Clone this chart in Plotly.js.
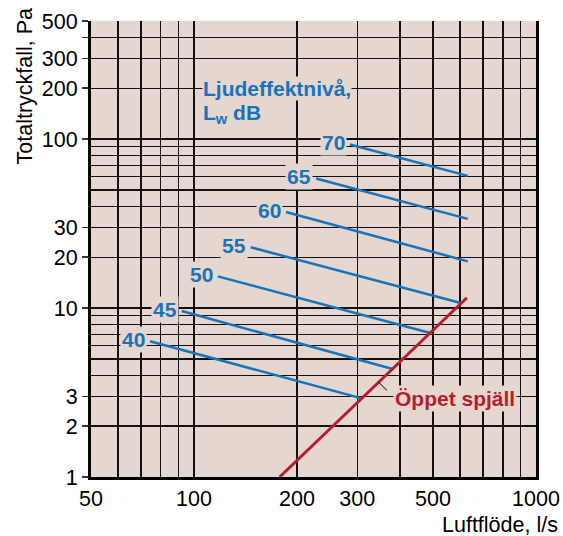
<!DOCTYPE html>
<html>
<head>
<meta charset="utf-8">
<script src="https://cdn.plot.ly/plotly-3.0.1.min.js"></script>
<style>
  html, body { margin: 0; padding: 0; background: #ffffff; }
  #chart { width: 563px; height: 536px; }
</style>
</head>
<body>
<div id="chart"></div>
<script>
// Sound power level lines (Lw, dB): pressure drop vs. airflow, log-log
const levels    = ['40', '45', '50', '55', '60', '65', '70'];
const startFlow = [74.4, 92.1, 117.4, 146.5, 185.8, 227.5, 285.9];
const startDrop = [6.36, 9.6, 15.4, 22.9, 37.0, 58.4, 93.0];
const endFlow   = [307.3, 381, 487.7, 606.6, 631.6, 631.6, 631.6];
const endDrop   = [2.93, 4.36, 7.14, 10.67, 18.9, 33.7, 60.6];

// Open damper characteristic
const damperFlow = [178, 628];
const damperDrop = [1.0, 11.5];

// Axis ticks and grid
const xTickVals  = [50, 100, 200, 300, 500, 1000];
const xTickText  = ['50', '100', '200', '300', '500', '1000'];
const xGridVals  = [60, 70, 80, 90, 400, 600, 700, 800, 900];
const yTickVals  = [1, 2, 3, 10, 20, 30, 100, 200, 300, 400, 500];
const yTickText  = ['1', '2', '3', '10', '20', '30', '100', '200', '300', ' ', '500'];
const yGridVals  = [4, 5, 6, 7, 8, 9, 40, 50, 60, 70, 80, 90];

const BLUE = '#1873b9';
const RED = '#b71d2d';
const BG = '#e5d6cf';
const GRID = '#141010';
const FONT = 'Liberation Sans, Arial, Helvetica, sans-serif';
const lg = Math.log10;

const traces = levels.map((lv, i) => ({
  type: 'scatter', mode: 'lines',
  x: [startFlow[i], endFlow[i]],
  y: [startDrop[i], endDrop[i]],
  line: { color: BLUE, width: 2.5 },
  hoverinfo: 'skip', showlegend: false
}));
traces.push({
  type: 'scatter', mode: 'lines',
  x: damperFlow, y: damperDrop,
  line: { color: RED, width: 3 },
  hoverinfo: 'skip', showlegend: false
});

const annotations = levels.map((lv, i) => ({
  x: lg(startFlow[i]), y: lg(startDrop[i]), xref: 'x', yref: 'y',
  text: '<b>' + lv + '</b>', showarrow: false, xanchor: 'right', yanchor: 'middle',
  xshift: -3, yshift: 2,
  bgcolor: BG, borderpad: 1,
  font: { family: FONT, size: 21, color: BLUE }
}));

annotations.push(
  { xref: 'paper', yref: 'paper', x: 0.25, y: 0.853, xanchor: 'left', yanchor: 'middle',
    text: '<b>Ljudeffektnivå,</b>', showarrow: false, bgcolor: BG, borderpad: 0,
    font: { family: FONT, size: 21, color: BLUE } },
  { xref: 'paper', yref: 'paper', x: 0.25, y: 0.797, xanchor: 'left', yanchor: 'middle',
    text: '<b>L<sub>w</sub> dB</b>', showarrow: false, bgcolor: BG, borderpad: 0,
    font: { family: FONT, size: 21, color: BLUE } },
  { xref: 'paper', yref: 'paper', x: 0.819, y: 0.172, xanchor: 'center', yanchor: 'middle',
    text: '<b>Öppet spjäll</b>', showarrow: false, bgcolor: BG, borderpad: 1,
    font: { family: FONT, size: 21, color: RED } },
  // leader from the damper label to its line
  { xref: 'x', yref: 'y', axref: 'x', ayref: 'y',
    x: lg(346), y: lg(3.65), ax: lg(378), ay: lg(3.06),
    text: ' ', showarrow: true, arrowhead: 0, arrowwidth: 1, arrowcolor: '#000' },
  // axis titles
  { xref: 'paper', yref: 'paper', x: -0.149, y: 0.858, xanchor: 'center', yanchor: 'middle',
    text: 'Totaltryckfall, Pa', textangle: -90, showarrow: false,
    font: { family: FONT, size: 21.5, color: '#000' } },
  { xref: 'paper', yref: 'paper', x: 1.053, y: -0.106, xanchor: 'right', yanchor: 'middle',
    text: 'Luftflöde, l/s', showarrow: false,
    font: { family: FONT, size: 21.5, color: '#000' } }
);

const layout = {
  width: 563, height: 536,
  margin: { l: 91, r: 27, t: 21, b: 59 },
  paper_bgcolor: '#ffffff',
  plot_bgcolor: BG,
  showlegend: false,
  font: { family: FONT, size: 21, color: '#000' },
  xaxis: {
    type: 'log', range: [lg(50), lg(1000)],
    tickmode: 'array', tickvals: xTickVals, ticktext: xTickText,
    ticks: '', showgrid: true, gridcolor: GRID, gridwidth: 1.3,
    minor: { tickmode: 'array', tickvals: xGridVals, showgrid: true, gridcolor: GRID, gridwidth: 1.3, ticks: '' },
    showline: true, linecolor: '#000', linewidth: 3, mirror: false,
    zeroline: false, tickfont: { family: FONT, size: 21.5, color: '#000' }
  },
  yaxis: {
    type: 'log', range: [0, lg(500)],
    tickmode: 'array', tickvals: yTickVals, ticktext: yTickText,
    ticks: 'outside', ticklen: 6, tickwidth: 1.5, tickcolor: '#333',
    showgrid: true, gridcolor: GRID, gridwidth: 1.3,
    minor: { tickmode: 'array', tickvals: yGridVals, showgrid: true, gridcolor: GRID, gridwidth: 1.3, ticks: '' },
    showline: true, linecolor: '#000', linewidth: 3, mirror: true,
    zeroline: false, tickfont: { family: FONT, size: 21.5, color: '#000' }
  },
  annotations: annotations
};

Plotly.newPlot('chart', traces, layout, { staticPlot: true, displayModeBar: false });
</script>
</body>
</html>
